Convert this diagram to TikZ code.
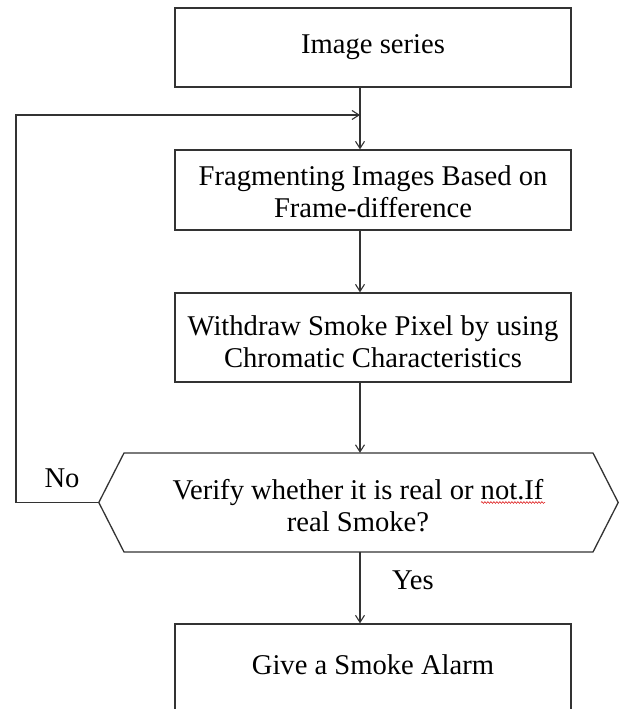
\documentclass[tikz,border=0pt]{standalone}
\usepackage{fontspec}
\setmainfont{Liberation Serif}
\usetikzlibrary{arrows.meta,decorations.pathmorphing}
\begin{document}
\begin{tikzpicture}[x=1pt,y=1pt,
  line/.style={draw=black!80,line width=1.3pt},
  arr/.style={line,-{Straight Barb[length=7pt,width=9pt,line width=1.1pt]}},
  boxnode/.style={line,rectangle,minimum width=396pt,inner sep=0pt},
  txt/.style={font=\fontsize{28.6}{32}\selectfont,align=center,text=black,inner sep=0pt},
  lbl/.style={font=\fontsize{28.6}{32}\selectfont,text=black,inner sep=0pt}]
\useasboundingbox (0,0) rectangle (619,709);
% column of the connectors
\coordinate (col) at (360,400);
% boxes
\node[boxnode,minimum height=79pt] (A) at (373,661.5) {};
\node[txt] at (373,662) {Image series};
\node[boxnode,minimum height=80pt] (B) at (373,519) {};
\node[txt] (Bt) at (373,517) {Fragmenting Images Based on\\Frame-difference};
\node[boxnode,minimum height=89pt] (C) at (373,371.5) {};
\node[txt] (Ct) at (373,367) {Withdraw Smoke Pixel by using\\Chromatic Characteristics};
% hexagon decision
\node[minimum width=519pt,minimum height=99pt,inner sep=0pt] (H) at (358.5,206.5) {};
\draw[line] (H.west) -- (124,256) -- (593,256) -- (H.east) -- (593,157) -- (124,157) -- cycle;
\node[txt] (Ht) at (358,203) {Verify whether it is real or not.If\\real Smoke?};
\draw[red!85!black,line width=0.5pt,decorate,decoration={snake,amplitude=0.9pt,segment length=3pt}]
  (481,206.5) -- (545,206.5);
% final box (cut at the bottom)
\coordinate (Dtl) at (175,85);
\draw[line] (175,-10) -- (Dtl) -- (571,85) -- (571,-10);
\node[rectangle,minimum width=396pt,minimum height=1pt,inner sep=0pt] (D) at (373,85) {};
\node[txt] at (373,44) {Give a Smoke Alarm};
% connectors
\draw[arr] (A.south -| col) -- (B.north -| col);
\draw[arr] (B.south -| col) -- (C.north -| col);
\draw[arr] (C.south -| col) -- (H.north -| col);
\draw[arr] (H.south -| col) -- (D.north -| col);
\coordinate (fb) at (360,594);
\draw[arr] (H.west) -- (16,206.5) -- (16,594) -- (fb);
% labels
\node[lbl] at (62,231) {No};
\node[lbl] at (413,129) {Yes};
\end{tikzpicture}
\end{document}
